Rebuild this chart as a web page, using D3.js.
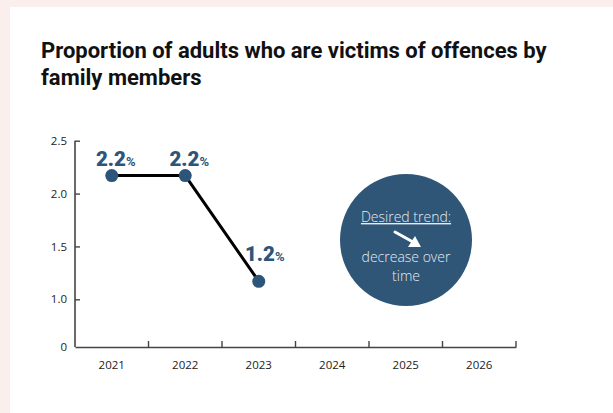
<!DOCTYPE html>
<html>
<head>
<meta charset="utf-8">
<script src="https://cdn.jsdelivr.net/npm/d3@7"></script>
<style>
  html, body { margin: 0; padding: 0; background: #ffffff; }
  svg { display: block; }
</style>
</head>
<body>
<svg id="chart" width="613" height="413"></svg>
<script>
// ---- data ----
const years = ["2021", "2022", "2023", "2024", "2025", "2026"];
const values = [2.17, 2.17, 1.17];
const valueLabels = ["2.2", "2.2", "1.2"];
const yTicks = [0, 1.0, 1.5, 2.0, 2.5];
const yTickLabels = ["0", "1.0", "1.5", "2.0", "2.5"];
const titleLines = ["Proportion of adults who are victims of offences by", "family members"];
const trendLines = ["Desired trend:", "decrease over", "time"];

// ---- layout ----
const W = 613, H = 413;
const svg = d3.select("#chart");
const pink = "#fbefed";
const navy = "#2d5579";

svg.append("rect").attr("x", 0).attr("y", 0).attr("width", W).attr("height", H).attr("fill", "#ffffff");
svg.append("rect").attr("x", 0).attr("y", 0).attr("width", W).attr("height", 7).attr("fill", pink);
svg.append("rect").attr("x", 0).attr("y", 0).attr("width", 10).attr("height", H).attr("fill", pink);

// title
const title = svg.append("text")
  .attr("x", 41)
  .attr("y", 57.5)
  .attr("font-family", "Roboto, 'Noto Sans', sans-serif")
  .attr("font-weight", 700)
  .attr("font-size", 22)
  .attr("fill", "#111111");
titleLines.forEach((t, i) => {
  title.append("tspan").attr("x", 41).attr("dy", i === 0 ? 0 : 27).text(t);
});

// scales
const x = d3.scaleBand().domain(years).range([75, 516]).padding(0);
// broken axis: 0 then 1.0 .. 2.5
const y = d3.scaleLinear().domain([0, 1.0, 2.5]).range([347, 299.3, 140.7]);

// y axis
const yAxis = d3.axisLeft(y)
  .tickValues(yTicks)
  .tickFormat((d, i) => yTickLabels[i])
  .tickSize(-5)
  .tickPadding(8);
const gy = svg.append("g").attr("transform", "translate(75,0)").call(yAxis);
gy.select(".domain").attr("d", `M0,${y(2.5)}V${y(0)}`);
gy.selectAll(".tick").filter(d => d === 0).select("line").remove();

// x axis
const xAxis = d3.axisBottom(x).tickSize(0).tickPadding(14);
const gx = svg.append("g").attr("transform", `translate(0,${y(0)})`).call(xAxis);
// inward ticks at band boundaries
const boundaries = years.slice(1).map(yr => x(yr)).concat([x.range()[1]]);
gx.selectAll(".boundary").data(boundaries).join("line")
  .attr("class", "boundary")
  .attr("x1", d => d).attr("x2", d => d)
  .attr("y1", 0).attr("y2", -6)
  .attr("stroke", "#444444").attr("stroke-width", 1.4);

[gx, gy].forEach(g => {
  g.select(".domain").attr("stroke", "#444444").attr("stroke-width", 1.6);
  g.selectAll(".tick line").attr("stroke", "#444444").attr("stroke-width", 1.4);
  g.selectAll(".tick text")
    .attr("font-family", "'Open Sans', 'Noto Sans', sans-serif")
    .attr("font-size", 11.5)
    .attr("fill", "#222222");
});

// line
const pts = values.map((v, i) => ({ year: years[i], v, label: valueLabels[i] }));
const cx = d => x(d.year) + x.bandwidth() / 2;
const line = d3.line().x(cx).y(d => y(d.v));
svg.append("path").datum(pts)
  .attr("d", line)
  .attr("fill", "none")
  .attr("stroke", "#000000")
  .attr("stroke-width", 3)
  .attr("stroke-linejoin", "round");

svg.selectAll(".dot").data(pts).join("circle")
  .attr("class", "dot")
  .attr("cx", cx).attr("cy", d => y(d.v))
  .attr("r", 6.5)
  .attr("fill", navy);

// value labels
const labelDx = [4, 4, 6];
const labelDy = [-10, -10, -20];
svg.selectAll(".vlabel").data(pts).join("text")
  .attr("class", "vlabel")
  .attr("x", (d, i) => cx(d) + labelDx[i])
  .attr("y", (d, i) => y(d.v) + labelDy[i])
  .attr("text-anchor", "middle")
  .attr("font-family", "Roboto, 'Noto Sans', sans-serif")
  .attr("font-weight", 900)
  .attr("fill", navy)
  .each(function (d) {
    const t = d3.select(this);
    t.append("tspan").attr("font-size", 20.5).text(d.label);
    t.append("tspan").attr("font-size", 13).attr("font-weight", 700).text("%");
  });

// desired trend bubble
const bx = 406, by = 240, br = 66;
svg.append("circle").attr("cx", bx).attr("cy", by).attr("r", br).attr("fill", "#2f5577");

const bubbleFont = "'Open Sans', 'Noto Sans', sans-serif";
const tc = "#e6ecf2";
[[trendLines[0], 222, true], [trendLines[1], 262, false], [trendLines[2], 281, false]].forEach(([t, ty, ul]) => {
  svg.append("text")
    .attr("x", bx).attr("y", ty)
    .attr("text-anchor", "middle")
    .attr("font-family", bubbleFont).attr("font-weight", 300)
    .attr("font-size", 14).attr("fill", tc)
    .attr("text-decoration", ul ? "underline" : null)
    .text(t);
});

// arrow
svg.append("line")
  .attr("x1", 395).attr("y1", 232).attr("x2", 413).attr("y2", 242)
  .attr("stroke", "#ffffff").attr("stroke-width", 3).attr("stroke-linecap", "round");
svg.append("path")
  .attr("d", "M421,247 L408,247 L415,236 Z")
  .attr("fill", "#ffffff");
</script>
</body>
</html>
